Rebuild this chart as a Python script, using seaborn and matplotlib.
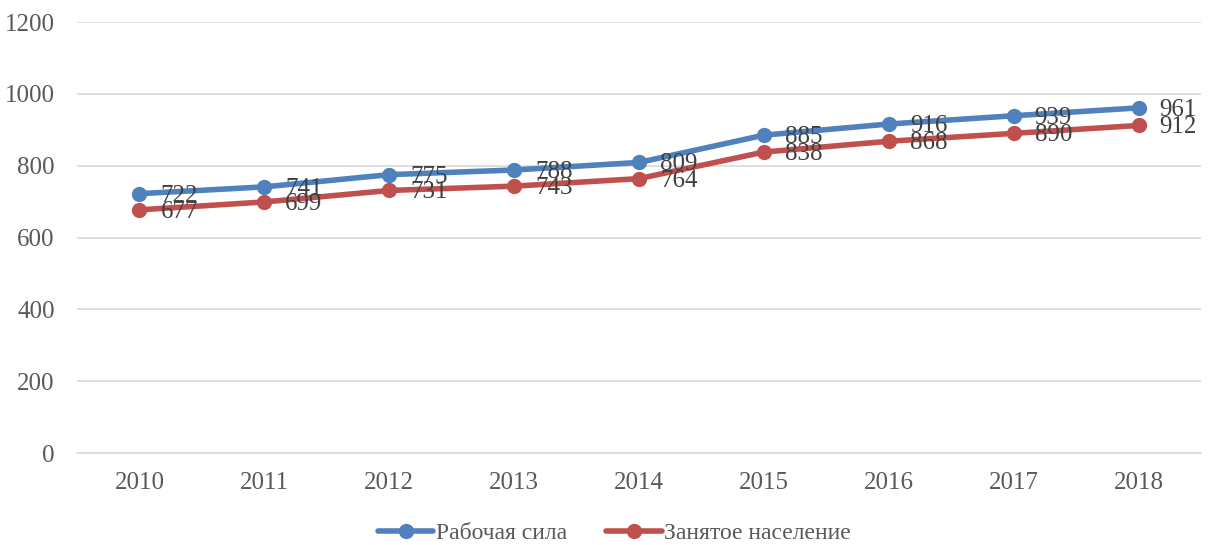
import matplotlib
matplotlib.use("Agg")
import matplotlib.pyplot as plt
import seaborn as sns
import pandas as pd

years = [2010, 2011, 2012, 2013, 2014, 2015, 2016, 2017, 2018]
labour_force = [722, 741, 775, 788, 809, 885, 916, 939, 961]
employed = [677, 699, 731, 743, 764, 838, 868, 890, 912]
series_names = ["Рабочая сила", "Занятое население"]
colors = ["#4F81BD", "#C0504D"]

sns.set_style("white")
plt.rcParams["font.family"] = ["Liberation Serif", "DejaVu Serif"]

df = pd.DataFrame({
    "year": [str(y) for y in years] * 2,
    "value": labour_force + employed,
    "series": [series_names[0]] * len(years) + [series_names[1]] * len(years),
})

fig = plt.figure(figsize=(12.12, 5.45), dpi=100)
ax = fig.add_axes([0.0635, 0.1688, 0.9275, 0.7908])

sns.lineplot(data=df, x="year", y="value", hue="series", palette=colors,
             marker="o", markersize=11, markeredgewidth=0, linewidth=4.0,
             sort=False, ax=ax, legend=True)

text_color = "#404040"
for vals in (labour_force, employed):
    for i, v in enumerate(vals):
        ax.annotate(str(v), (i, v), xytext=(21, -2), textcoords="offset pixels",
                    ha="left", va="center", fontsize=18, color=text_color)

ax.set_ylim(0, 1200)
ax.set_yticks(range(0, 1201, 200))
ax.set_xlim(-0.5, len(years) - 0.5)
ax.yaxis.grid(True, color="#D9D9D9", linewidth=1.2)
ax.set_axisbelow(True)
for s in ["top", "right", "left"]:
    ax.spines[s].set_visible(False)
ax.spines["bottom"].set_color("#D9D9D9")
ax.spines["bottom"].set_linewidth(1.2)
ax.tick_params(axis="both", length=0, labelsize=18, labelcolor="#595959")
ax.tick_params(axis="x", pad=14)
ax.tick_params(axis="y", pad=16)
ax.set_xlabel("")
ax.set_ylabel("")

leg = ax.legend(loc="upper center", bbox_to_anchor=(0.478, -0.113), ncol=2,
                frameon=False, fontsize=17, handlelength=2.35, handletextpad=0.1,
                columnspacing=1.67)
for t in leg.get_texts():
    t.set_color("#595959")

fig.savefig("out.png", dpi=100)
